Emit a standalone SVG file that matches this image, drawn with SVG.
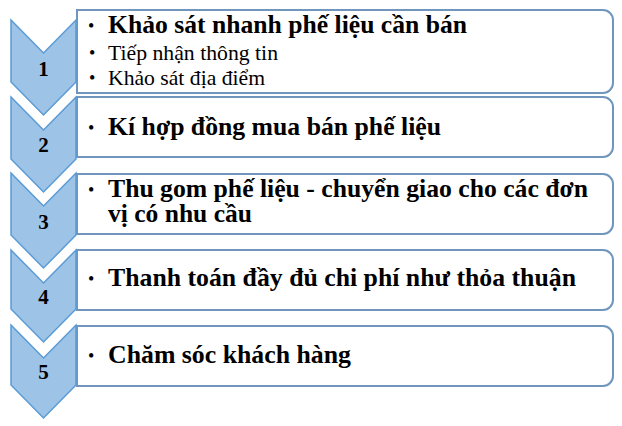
<svg xmlns="http://www.w3.org/2000/svg" width="622" height="426" viewBox="0 0 622 426">
<style>
.chev{fill:#9dc3e6;stroke:#5b9bd5;stroke-width:1.5;stroke-linejoin:miter}
.box{fill:#ffffff;stroke:#7096bd;stroke-width:2}
.num{font-family:"Liberation Serif","DejaVu Serif",serif;font-weight:bold;font-size:21px;fill:#000;text-anchor:middle}
.main{font-family:"Liberation Serif","DejaVu Serif",serif;font-weight:bold;font-size:25px;fill:#000}
.sub{font-family:"Liberation Serif","DejaVu Serif",serif;font-weight:normal;font-size:21px;fill:#000}
.bul{font-family:"Liberation Serif","DejaVu Serif",serif;font-size:18px;fill:#000}
</style>
<rect width="622" height="426" fill="#ffffff"/>
<g id="connectors"></g>
<g id="step1">
<path class="box" d="M77,10 H603 A10,10 0 0 1 613,20 V83 A10,10 0 0 1 603,93 H77 Z"/>
<path class="chev" d="M11,20 L43.5,53 L76,20 L76,82 L43.5,115 L11,82 Z"/>
<text class="num" x="43.5" y="76">1</text>
<text class="bul" x="88" y="32">•</text>
<text class="main" x="108" y="33" textLength="359" lengthAdjust="spacingAndGlyphs">Khảo sát nhanh phế liệu cần bán</text>
<text class="bul" x="89" y="59">•</text>
<text class="sub" x="108" y="60" textLength="170" lengthAdjust="spacingAndGlyphs">Tiếp nhận thông tin</text>
<text class="bul" x="89" y="84">•</text>
<text class="sub" x="108" y="85" textLength="157" lengthAdjust="spacingAndGlyphs">Khảo sát địa điểm</text>
</g>
<g id="step2">
<path class="box" d="M77,97 H603 A10,10 0 0 1 613,107 V147 A10,10 0 0 1 603,157 H77 Z"/>
<path class="chev" d="M11,97 L43.5,130 L76,97 L76,159 L43.5,192 L11,159 Z"/>
<text class="num" x="43.5" y="152">2</text>
<text class="bul" x="88" y="134">•</text>
<text class="main" x="108" y="135" textLength="333" lengthAdjust="spacingAndGlyphs">Kí hợp đồng mua bán phế liệu</text>
</g>
<g id="step3">
<path class="box" d="M77,174 H603 A10,10 0 0 1 613,184 V224 A10,10 0 0 1 603,234 H77 Z"/>
<path class="chev" d="M11,173 L43.5,206 L76,173 L76,235 L43.5,268 L11,235 Z"/>
<text class="num" x="43.5" y="229">3</text>
<text class="bul" x="88" y="196">•</text>
<text class="main" x="108" y="197" textLength="480" lengthAdjust="spacingAndGlyphs">Thu gom phế liệu - chuyển giao cho các đơn</text>
<text class="main" x="108" y="222" textLength="144" lengthAdjust="spacingAndGlyphs">vị có nhu cầu</text>
</g>
<g id="step4">
<path class="box" d="M77,250 H603 A10,10 0 0 1 613,260 V300 A10,10 0 0 1 603,310 H77 Z"/>
<path class="chev" d="M11,250 L43.5,283 L76,250 L76,309 L43.5,342 L11,309 Z"/>
<text class="num" x="43.5" y="304">4</text>
<text class="bul" x="88" y="285">•</text>
<text class="main" x="108" y="286" textLength="468" lengthAdjust="spacingAndGlyphs">Thanh toán đầy đủ chi phí như thỏa thuận</text>
</g>
<g id="step5">
<path class="box" d="M77,326 H603 A10,10 0 0 1 613,336 V376 A10,10 0 0 1 603,386 H77 Z"/>
<path class="chev" d="M11,325 L43.5,358 L76,325 L76,385 L43.5,418 L11,385 Z"/>
<text class="num" x="43.5" y="379">5</text>
<text class="bul" x="88" y="362">•</text>
<text class="main" x="108" y="363" textLength="243" lengthAdjust="spacingAndGlyphs">Chăm sóc khách hàng</text>
</g>
</svg>
